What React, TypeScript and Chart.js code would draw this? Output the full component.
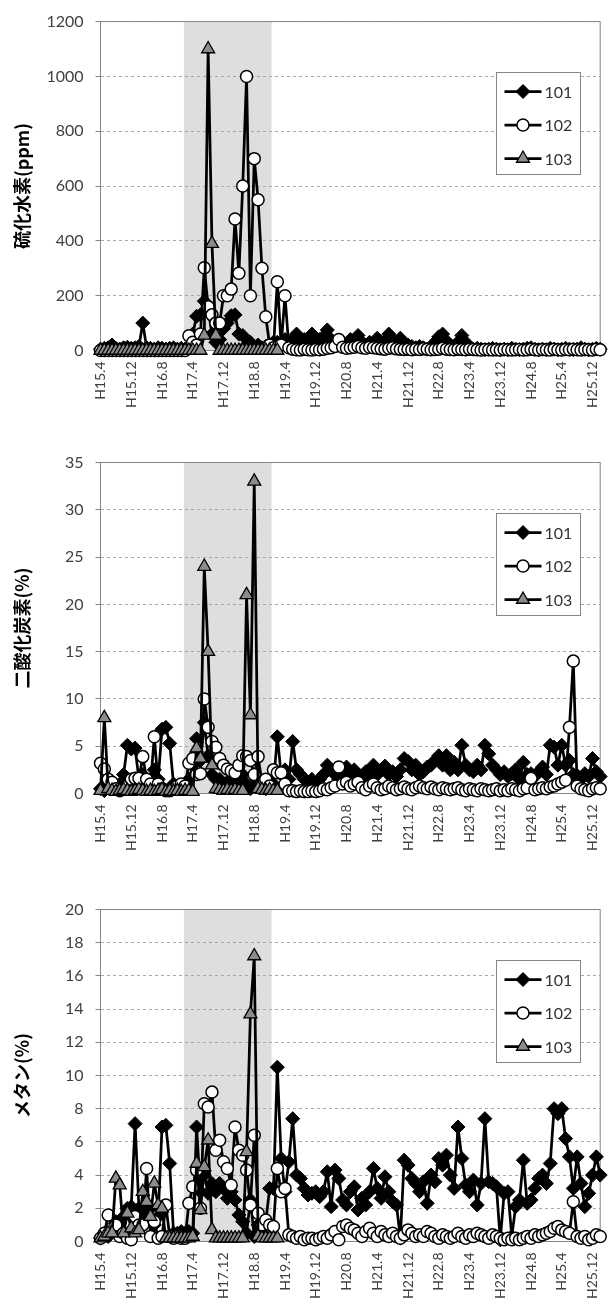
import React, { useEffect, useRef } from 'react';
import { Chart, registerables } from 'chart.js';

Chart.register(...registerables);

// ---- categories (monthly, H15.4 .. H26.2) ----
const MONTHS = [
  'H15.4', 'H15.5', 'H15.6', 'H15.7', 'H15.8', 'H15.9', 'H15.10', 'H15.11', 'H15.12',
  'H16.1', 'H16.2', 'H16.3', 'H16.4', 'H16.5', 'H16.6', 'H16.7', 'H16.8', 'H16.9', 'H16.10', 'H16.11', 'H16.12',
  'H17.1', 'H17.2', 'H17.3', 'H17.4', 'H17.5', 'H17.6', 'H17.7', 'H17.8', 'H17.9', 'H17.10', 'H17.11', 'H17.12',
  'H18.1', 'H18.2', 'H18.3', 'H18.4', 'H18.5', 'H18.6', 'H18.7', 'H18.8', 'H18.9', 'H18.10', 'H18.11', 'H18.12',
  'H19.1', 'H19.2', 'H19.3', 'H19.4', 'H19.5', 'H19.6', 'H19.7', 'H19.8', 'H19.9', 'H19.10', 'H19.11', 'H19.12',
  'H20.1', 'H20.2', 'H20.3', 'H20.4', 'H20.5', 'H20.6', 'H20.7', 'H20.8', 'H20.9', 'H20.10', 'H20.11', 'H20.12',
  'H21.1', 'H21.2', 'H21.3', 'H21.4', 'H21.5', 'H21.6', 'H21.7', 'H21.8', 'H21.9', 'H21.10', 'H21.11', 'H21.12',
  'H22.1', 'H22.2', 'H22.3', 'H22.4', 'H22.5', 'H22.6', 'H22.7', 'H22.8', 'H22.9', 'H22.10', 'H22.11', 'H22.12',
  'H23.1', 'H23.2', 'H23.3', 'H23.4', 'H23.5', 'H23.6', 'H23.7', 'H23.8', 'H23.9', 'H23.10', 'H23.11', 'H23.12',
  'H24.1', 'H24.2', 'H24.3', 'H24.4', 'H24.5', 'H24.6', 'H24.7', 'H24.8', 'H24.9', 'H24.10', 'H24.11', 'H24.12',
  'H25.1', 'H25.2', 'H25.3', 'H25.4', 'H25.5', 'H25.6', 'H25.7', 'H25.8', 'H25.9', 'H25.10', 'H25.11', 'H25.12',
  'H26.1', 'H26.2',
];
const TICK_EVERY = 8; // a label every 8 months

const SERIES_NAMES = ['101', '102', '103'];

// shaded period (in category-index units)
const BAND_START = 21.7;
const BAND_END = 44.5;

// ---- 硫化水素 (ppm) ----
const H2S_101 = [
  5, 8, 10, 20, 8, 5, 10, 12, 8, 10,
  15, 100, 10, 8, 5, 10, 8, 5, 8, 10,
  5, 8, 5, 10, 60, 125, 130, 180, 150, 60,
  30, 40, 80, 100, 127, 130, 60, 55, 20, 30,
  15, 20, 10, 15, 20, 30, 30, 20, 40, 20,
  40, 60, 30, 40, 20, 60, 30, 40, 50, 75,
  40, 30, 20, 30, 25, 40, 30, 55, 30, 20,
  30, 25, 45, 30, 35, 60, 40, 30, 45, 25,
  20, 15, 10, 15, 10, 5, 10, 30, 50, 60,
  35, 20, 15, 30, 55, 30, 10, 5, 8, 5,
  3, 5, 8, 5, 3, 5, 3, 8, 5, 3,
  5, 8, 10, 5, 3, 5, 3, 8, 5, 3,
  5, 8, 5, 3, 5, 10, 5, 3, 5, 8,
  5,
];
const H2S_102 = [
  0, 0, 0, 0, 0, 0, 0, 0, 0, 0,
  0, 0, 0, 0, 0, 0, 0, 0, 0, 0,
  0, 0, 0, 54, 30, 20, 60, 302, 160, 130,
  100, 100, 200, 200, 224, 480, 282, 600, 1000, 200,
  700, 550, 300, 123, 20, 10, 251, 20, 200, 10,
  5, 3, 2, 5, 3, 2, 4, 3, 5, 8,
  10, 15, 40, 12, 8, 10, 12, 15, 10, 8,
  12, 10, 8, 6, 5, 8, 10, 6, 5, 4,
  5, 3, 5, 4, 6, 5, 3, 4, 5, 8,
  5, 4, 3, 5, 4, 3, 5, 4, 3, 2,
  4, 3, 2, 3, 2, 4, 3, 2, 3, 4,
  2, 3, 5, 3, 2, 4, 3, 2, 5, 3,
  2, 4, 3, 5, 3, 2, 4, 3, 2, 5,
  3,
];
const H2S_103 = [
  0, 0, 0, 0, 0, 0, 0, 0, 0, 0,
  0, 0, 0, 0, 0, 0, 0, 0, 0, 0,
  0, 0, 0, 0, 0, 0, 0, 55, 1100, 390,
  55, 0, 0, 0, 0, 0, 0, 0, 0, 0,
  0, 0, 0, 0, 0, 0, 0,
];

// ---- 二酸化炭素 (%) ----
const CO2_101 = [
  0.5, 0.3, 1.0, 0.5, 0.8, 1.0, 2.0, 5.1, 4.7, 4.8,
  1.5, 2.0, 1.0, 1.5, 2.5, 1.5, 6.8, 7.0, 5.3, 1.0,
  0.8, 0.5, 1.0, 1.5, 3.0, 5.8, 3.5, 7.5, 4.0, 2.0,
  1.5, 1.5, 1.0, 1.2, 1.0, 0.8, 1.5, 2.0, 1.0, 0.5,
  1.0, 1.5, 0.8, 0.5, 0.8, 1.0, 6.0, 2.0, 2.5, 1.5,
  5.5, 2.5, 2.0, 1.5, 1.2, 1.5, 1.0, 1.5, 2.0, 3.0,
  2.5, 2.0, 1.5, 2.0, 2.8, 1.5, 2.5, 1.8, 1.5, 2.3,
  1.8, 3.0, 2.0, 2.5, 2.9, 2.0, 2.3, 1.8, 2.5, 3.7,
  3.4, 2.5, 3.0, 2.0, 2.3, 2.8, 3.0, 3.5, 4.0, 3.0,
  4.0, 2.5, 3.3, 2.5, 5.1, 3.0, 2.5, 2.3, 3.0, 2.5,
  5.1, 4.2, 3.0, 2.5, 2.0, 2.3, 1.8, 2.1, 2.5, 1.5,
  3.3, 2.0, 2.1, 1.8, 2.3, 2.8, 2.0, 5.1, 4.9, 3.0,
  5.1, 3.0, 3.5, 2.0, 1.9, 1.5, 2.1, 1.8, 3.7, 2.3,
  1.8,
];
const CO2_102 = [
  3.2, 2.6, 1.5, 1.2, 0.5, 0.3, 0.5, 0.8, 1.5, 1.6,
  1.6, 3.9, 1.5, 1.0, 6.0, 1.0, 0.5, 0.3, 0.3, 0.5,
  0.8, 1.0, 0.8, 3.2, 3.7, 2.0, 2.1, 10.0, 7.0, 5.5,
  4.9, 3.7, 3.0, 2.6, 2.4, 2.2, 3.0, 4.0, 3.9, 3.5,
  2.0, 3.9, 1.2, 1.5, 0.8, 2.5, 2.2, 2.2, 1.0, 0.3,
  0.3, 0.2, 0.3, 0.2, 0.2, 0.3, 0.2, 0.3, 0.5, 0.4,
  0.6, 0.8, 2.8, 1.0, 1.2, 0.8, 1.0, 1.2, 0.6, 0.4,
  0.8, 1.0, 0.6, 0.4, 0.5, 0.8, 0.6, 0.4, 0.5, 0.7,
  0.5, 0.4, 0.6, 0.8, 0.6, 0.5, 0.7, 0.5, 0.4, 0.6,
  0.5, 0.4, 0.5, 0.6, 0.4, 0.3, 0.5, 0.4, 0.3, 0.5,
  0.4, 0.3, 0.4, 0.5, 0.3, 0.4, 0.3, 0.5, 0.4, 0.3,
  0.5, 0.6, 1.6, 0.4, 0.5, 0.6, 0.5, 0.7, 0.8, 1.0,
  1.2, 1.4, 7.0, 14.0, 0.8, 0.5, 0.4, 0.3, 0.5, 0.6,
  0.5,
];
const CO2_103 = [
  0.3, 8.0, 0.5, 0.3, 0.2, 0.3, 0.4, 0.3, 0.2, 0.3,
  0.4, 0.3, 0.2, 0.3, 0.2, 0.3, 0.4, 0.2, 0.3, 0.2,
  0.3, 0.2, 0.3, 0.3, 0.2, 4.8, 3.7, 24.0, 15.0, 3.0,
  0.5, 0.4, 0.3, 0.4, 0.3, 0.4, 0.3, 0.3, 21.0, 8.3,
  33.0, 0.5, 0.4, 0.3, 0.4, 0.3, 0.3,
];

// ---- メタン (%) ----
const CH4_101 = [
  0.2, 0.5, 0.3, 0.8, 1.2, 0.5, 1.5, 2.0, 2.1, 7.1,
  2.0, 1.8, 1.5, 2.0, 1.0, 1.5, 6.9, 7.0, 4.7, 0.5,
  0.5, 0.6, 0.5, 0.6, 0.5, 6.9, 3.0, 4.0, 2.9, 3.5,
  3.0, 3.5, 3.2, 2.6, 3.0, 2.5, 1.6, 1.2, 0.5, 2.5,
  0.3, 1.0, 0.5, 1.2, 3.2, 3.2, 10.5, 5.0, 3.0, 4.8,
  7.4, 4.0, 3.8, 3.2, 2.8, 2.9, 3.0, 2.7, 3.0, 4.2,
  2.1, 4.3, 3.8, 2.5, 2.2, 3.0, 3.3, 1.9, 2.6, 2.2,
  3.0, 4.4, 3.2, 2.6, 3.9, 3.0, 2.4, 2.2, 0.2, 4.9,
  4.6, 3.8, 3.5, 3.0, 3.6, 2.3, 4.0, 3.6, 5.0, 4.6,
  5.2, 4.0, 3.2, 6.9, 5.0, 3.4, 3.0, 3.7, 2.2, 3.5,
  7.4, 3.6, 3.5, 3.3, 0.1, 2.9, 3.0, 0.3, 2.1, 2.5,
  4.9, 2.3, 2.5, 3.2, 3.8, 4.0, 3.5, 4.7, 8.0, 7.7,
  8.0, 6.2, 5.1, 3.2, 5.1, 3.5, 2.1, 2.9, 4.0, 5.1,
  4.0,
];
const CH4_102 = [
  0.2, 0.5, 1.6, 0.8, 1.0, 0.3, 0.5, 0.2, 0.1, 1.5,
  1.0, 1.0, 4.4, 0.3, 1.2, 0.2, 0.3, 2.2, 0.3, 0.2,
  0.3, 0.2, 0.2, 2.3, 3.3, 4.3, 2.0, 8.3, 8.1, 9.0,
  5.5, 6.1, 4.8, 4.4, 3.4, 6.9, 5.5, 5.2, 4.3, 2.2,
  6.4, 1.7, 1.0, 1.3, 1.0, 0.9, 4.4, 3.0, 3.2, 0.4,
  0.3, 0.2, 0.3, 0.1, 0.2, 0.2, 0.1, 0.2, 0.3, 0.2,
  0.4, 0.6, 0.1, 0.9, 1.0, 0.8, 0.7, 0.5, 0.3, 0.6,
  0.8, 0.5, 0.3, 0.6, 0.4, 0.3, 0.5, 0.3, 0.2, 0.4,
  0.7, 0.5, 0.3, 0.4, 0.3, 0.6, 0.5, 0.3, 0.2, 0.4,
  0.3, 0.2, 0.3, 0.5, 0.3, 0.2, 0.4, 0.3, 0.5, 0.4,
  0.3, 0.2, 0.4, 0.3, 0.2, 0.1, 0.2, 0.1, 0.2, 0.1,
  0.2, 0.3, 0.2, 0.4, 0.3, 0.4, 0.5, 0.6, 0.8, 0.9,
  0.7, 0.6, 0.5, 2.4, 0.3, 0.2, 0.3, 0.1, 0.2, 0.4,
  0.3,
];
const CH4_103 = [
  0.2, 0.3, 0.5, 0.5, 3.8, 3.4, 0.5, 1.7, 0.8, 0.5,
  0.7, 3.0, 2.4, 1.5, 3.5, 2.2, 2.0, 0.2, 0.2, 0.2,
  0.2, 0.2, 0.2, 0.2, 0.3, 4.7, 1.9, 4.5, 6.1, 0.7,
  0.2, 0.2, 0.2, 0.2, 0.2, 0.2, 0.2, 0.2, 5.4, 13.7,
  17.2, 0.3, 0.2, 0.2, 0.2, 0.2, 0.2,
];

// ---- styles ----
type Marker = { style: 'rectRot' | 'circle' | 'triangle'; radius: number; fill: string; border: string; borderWidth: number };
const MARKERS: Marker[] = [
  { style: 'rectRot', radius: 7, fill: '#000000', border: '#000000', borderWidth: 1 },
  { style: 'circle', radius: 6, fill: '#ffffff', border: '#000000', borderWidth: 1.5 },
  { style: 'triangle', radius: 7.5, fill: '#8c8c8c', border: '#000000', borderWidth: 1.3 },
];
const AXIS_GRAY = '#868686';
const GRID_GRAY = '#a8a8a8';
const BAND_GRAY = '#dedede';
const TEXT_GRAY = '#404040';
const LATIN = "Lato, 'Liberation Sans', sans-serif";
const CJK = "'Noto Sans CJK JP', sans-serif";

function drawMarker(ctx: CanvasRenderingContext2D, m: Marker, x: number, y: number) {
  const r = m.radius;
  ctx.beginPath();
  if (m.style === 'circle') {
    ctx.arc(x, y, r, 0, Math.PI * 2);
  } else if (m.style === 'rectRot') {
    ctx.moveTo(x, y - r);
    ctx.lineTo(x + r, y);
    ctx.lineTo(x, y + r);
    ctx.lineTo(x - r, y);
    ctx.closePath();
  } else {
    const s = Math.sin(Math.PI / 3) * r;
    ctx.moveTo(x, y - r);
    ctx.lineTo(x + s, y + r / 2);
    ctx.lineTo(x - s, y + r / 2);
    ctx.closePath();
  }
  ctx.fillStyle = m.fill;
  ctx.fill();
  ctx.lineWidth = m.borderWidth;
  ctx.strokeStyle = m.border;
  ctx.stroke();
}

const bandPlugin = {
  id: 'band',
  beforeDraw(chart: any) {
    const { ctx, chartArea } = chart;
    const xs = chart.scales.x;
    const x0 = xs.getPixelForValue(BAND_START);
    const x1 = xs.getPixelForValue(BAND_END);
    ctx.save();
    ctx.fillStyle = BAND_GRAY;
    ctx.fillRect(x0, chartArea.top, x1 - x0, chartArea.bottom - chartArea.top);
    ctx.restore();
  },
};

const framePlugin = {
  id: 'frame',
  beforeDatasetsDraw(chart: any) {
    const { ctx, chartArea } = chart;
    ctx.save();
    ctx.strokeStyle = AXIS_GRAY;
    ctx.lineWidth = 1;
    ctx.strokeRect(chartArea.left, chartArea.top, chartArea.right - chartArea.left, chartArea.bottom - chartArea.top);
    ctx.restore();
  },
};

const boxLegendPlugin = {
  id: 'boxLegend',
  afterDraw(chart: any) {
    const { ctx, chartArea } = chart;
    const bx = Math.round(chartArea.right - 104) + 0.5;
    const by = Math.round(chartArea.top + 50) + 0.5;
    const bw = 84;
    const bh = 102;
    ctx.save();
    ctx.fillStyle = '#ffffff';
    ctx.fillRect(bx, by, bw, bh);
    ctx.strokeStyle = AXIS_GRAY;
    ctx.lineWidth = 1;
    ctx.strokeRect(bx, by, bw, bh);
    SERIES_NAMES.forEach((name, k) => {
      const cy = by + 19 + k * 33.5;
      ctx.beginPath();
      ctx.moveTo(bx + 8, cy);
      ctx.lineTo(bx + 45, cy);
      ctx.lineWidth = 2.75;
      ctx.strokeStyle = '#000000';
      ctx.stroke();
      drawMarker(ctx, MARKERS[k], bx + 26.5, cy);
      ctx.fillStyle = '#333333';
      ctx.font = `16px ${LATIN}`;
      ctx.textAlign = 'left';
      ctx.textBaseline = 'middle';
      ctx.fillText(name, bx + 48, cy + 1);
    });
    ctx.restore();
  },
};

type PanelSpec = {
  top: number;
  height: number;
  plotTop: number;
  plotBottom: number;
  title: string;
  max: number;
  step: number;
  s101: number[];
  s102: number[];
  s103: number[];
};

const PLOT_LEFT = 100.5;
const PLOT_RIGHT = 606.5;
const PAGE_W = 609;

const PANELS: PanelSpec[] = [
  { top: 0, height: 430, plotTop: 19.5, plotBottom: 350.5, title: '硫化水素(ppm)', max: 1200, step: 200, s101: H2S_101, s102: H2S_102, s103: H2S_103 },
  { top: 430, height: 440, plotTop: 462.5, plotBottom: 793.5, title: '二酸化炭素(%)', max: 35, step: 5, s101: CO2_101, s102: CO2_102, s103: CO2_103 },
  { top: 870, height: 435, plotTop: 909.5, plotBottom: 1241.5, title: 'メタン(%)', max: 20, step: 2, s101: CH4_101, s102: CH4_102, s103: CH4_103 },
];

function makeDataset(name: string, data: number[], k: number) {
  const m = MARKERS[k];
  return {
    label: name,
    data,
    order: 3 - k,
    borderColor: '#000000',
    borderWidth: 2.75,
    borderJoinStyle: 'round',
    borderCapStyle: 'round',
    tension: 0,
    fill: false,
    clip: false,
    pointStyle: m.style,
    pointRadius: m.radius,
    pointBackgroundColor: m.fill,
    pointBorderColor: m.border,
    pointBorderWidth: m.borderWidth,
    pointHoverRadius: m.radius,
  };
}

function Panel({ spec }: { spec: PanelSpec }) {
  const ref = useRef<HTMLCanvasElement | null>(null);
  useEffect(() => {
    if (!ref.current) return;
    const xHeight = spec.top + spec.height - spec.plotBottom;
    const chart = new Chart(ref.current, {
      type: 'line',
      data: {
        labels: MONTHS,
        datasets: [
          makeDataset(SERIES_NAMES[0], spec.s101, 0),
          makeDataset(SERIES_NAMES[1], spec.s102, 1),
          makeDataset(SERIES_NAMES[2], spec.s103, 2),
        ] as any,
      },
      options: {
        responsive: false,
        animation: false,
        events: [],
        layout: { padding: { top: spec.plotTop - spec.top, right: PAGE_W - PLOT_RIGHT, left: 0, bottom: 0 } },
        plugins: { legend: { display: false }, tooltip: { enabled: false } },
        scales: {
          x: {
            type: 'category',
            offset: false,
            grid: { display: false, drawTicks: false },
            border: { display: false },
            ticks: {
              autoSkip: false,
              minRotation: 90,
              maxRotation: 90,
              padding: 11,
              color: TEXT_GRAY,
              font: { family: LATIN, size: 14 },
              callback: (_v: any, i: number) => (i % TICK_EVERY === 0 ? MONTHS[i] : ''),
            },
            afterFit: (s: any) => {
              s.height = xHeight;
              s.paddingLeft = 0;
              s.paddingRight = 0;
            },
          },
          y: {
            min: 0,
            max: spec.max,
            ticks: {
              stepSize: spec.step,
              padding: 12,
              color: TEXT_GRAY,
              font: { family: LATIN, size: 16 },
              callback: (v: any) => String(v),
            },
            grid: { color: GRID_GRAY, lineWidth: 1, tickLength: 5, tickColor: AXIS_GRAY, drawTicks: true },
            border: { display: false, dash: [3, 3] },
            title: {
              display: true,
              text: spec.title,
              color: '#000000',
              font: { family: CJK, size: 18, weight: 'bold' },
              padding: { top: 11, bottom: 0 },
            },
            afterFit: (s: any) => {
              s.width = PLOT_LEFT;
            },
          },
        },
      } as any,
      plugins: [bandPlugin, framePlugin, boxLegendPlugin],
    });
    return () => chart.destroy();
  }, [spec]);
  return (
    <canvas
      ref={ref}
      width={PAGE_W}
      height={spec.height}
      style={{ position: 'absolute', left: 0, top: spec.top, width: PAGE_W, height: spec.height, display: 'block' }}
    />
  );
}

export default function App() {
  return (
    <div style={{ position: 'absolute', left: 0, top: 0, width: PAGE_W, height: 1305, background: '#ffffff' }}>
      {PANELS.map((p, i) => (
        <Panel key={i} spec={p} />
      ))}
    </div>
  );
}
